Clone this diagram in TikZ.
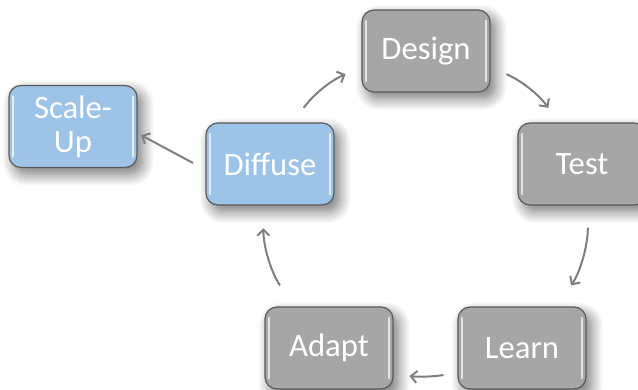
\documentclass[tikz,border=0pt]{standalone}
\usepackage{fontspec}
\setmainfont{Carlito}
\usetikzlibrary{arrows.meta,shadows.blur}
\definecolor{boxgray}{HTML}{A6A6A6}
\definecolor{boxblue}{HTML}{9DC3E6}
\definecolor{edgegray}{HTML}{5A5A5A}
\definecolor{arrowgray}{HTML}{7F7F7F}
\tikzset{
  stage/.style={draw=edgegray, line width=0.9pt, fill=boxgray, rounded corners=9pt,
    minimum width=96pt, minimum height=61.5pt, inner sep=0pt, align=center,
    text=white, font=\fontsize{24.5}{25.5}\selectfont,
    blur shadow={shadow xshift=4pt, shadow yshift=-5pt, shadow blur radius=9pt,
      shadow blur steps=12, shadow opacity=55},
    path picture={
      \draw[white, opacity=0.7, line width=1.2pt, line cap=round]
        ([shift={(3pt,8pt)}]path picture bounding box.south west) --
        ([shift={(3pt,-8pt)}]path picture bounding box.north west)
        ([shift={(-3pt,8pt)}]path picture bounding box.south east) --
        ([shift={(-3pt,-8pt)}]path picture bounding box.north east);
    }},
  bluestage/.style={stage, fill=boxblue},
  flow/.style={draw=arrowgray, line width=1.5pt, -{Straight Barb[length=4.5pt,width=9pt]}}
}
\begin{document}
\begin{tikzpicture}[x=0.75pt,y=0.75pt]
\useasboundingbox (0,0) rectangle (638,389);
\clip (0,0) rectangle (638,389);

% stages of the cycle
\node[stage] (design) at (426,338) {Design};
\node[stage] (test) at (582,225) {Test};
\node[stage] (learn) at (522,41) {Learn};
\node[stage] (adapt) at (329,41) {Adapt};
\node[bluestage] (diffuse) at (270,225) {Diffuse};
\node[bluestage] (scaleup) at (73,262.5) {Scale-\\Up};

% arrows round the cycle
\draw[flow, shorten <=13.5pt, shorten >=13pt] (diffuse.61) to[bend left=15] (design.194);
\draw[flow, shorten <=13pt, shorten >=13.5pt] (design.-14) to[bend left=15] (test.119);
\draw[flow, shorten <=16.5pt, shorten >=19pt] (test.278) to[bend left=17] (learn.50);
\draw[flow, shorten <=10.5pt, shorten >=12pt] (learn.201) to[bend left=8] (adapt.-22);
\draw[flow, shorten <=19pt, shorten >=17pt] (adapt.130) to[bend left=17] (diffuse.261);
\draw[flow, shorten <=10.5pt, shorten >=3pt] (diffuse.185) -- (scaleup.-6);

\end{tikzpicture}
\end{document}
